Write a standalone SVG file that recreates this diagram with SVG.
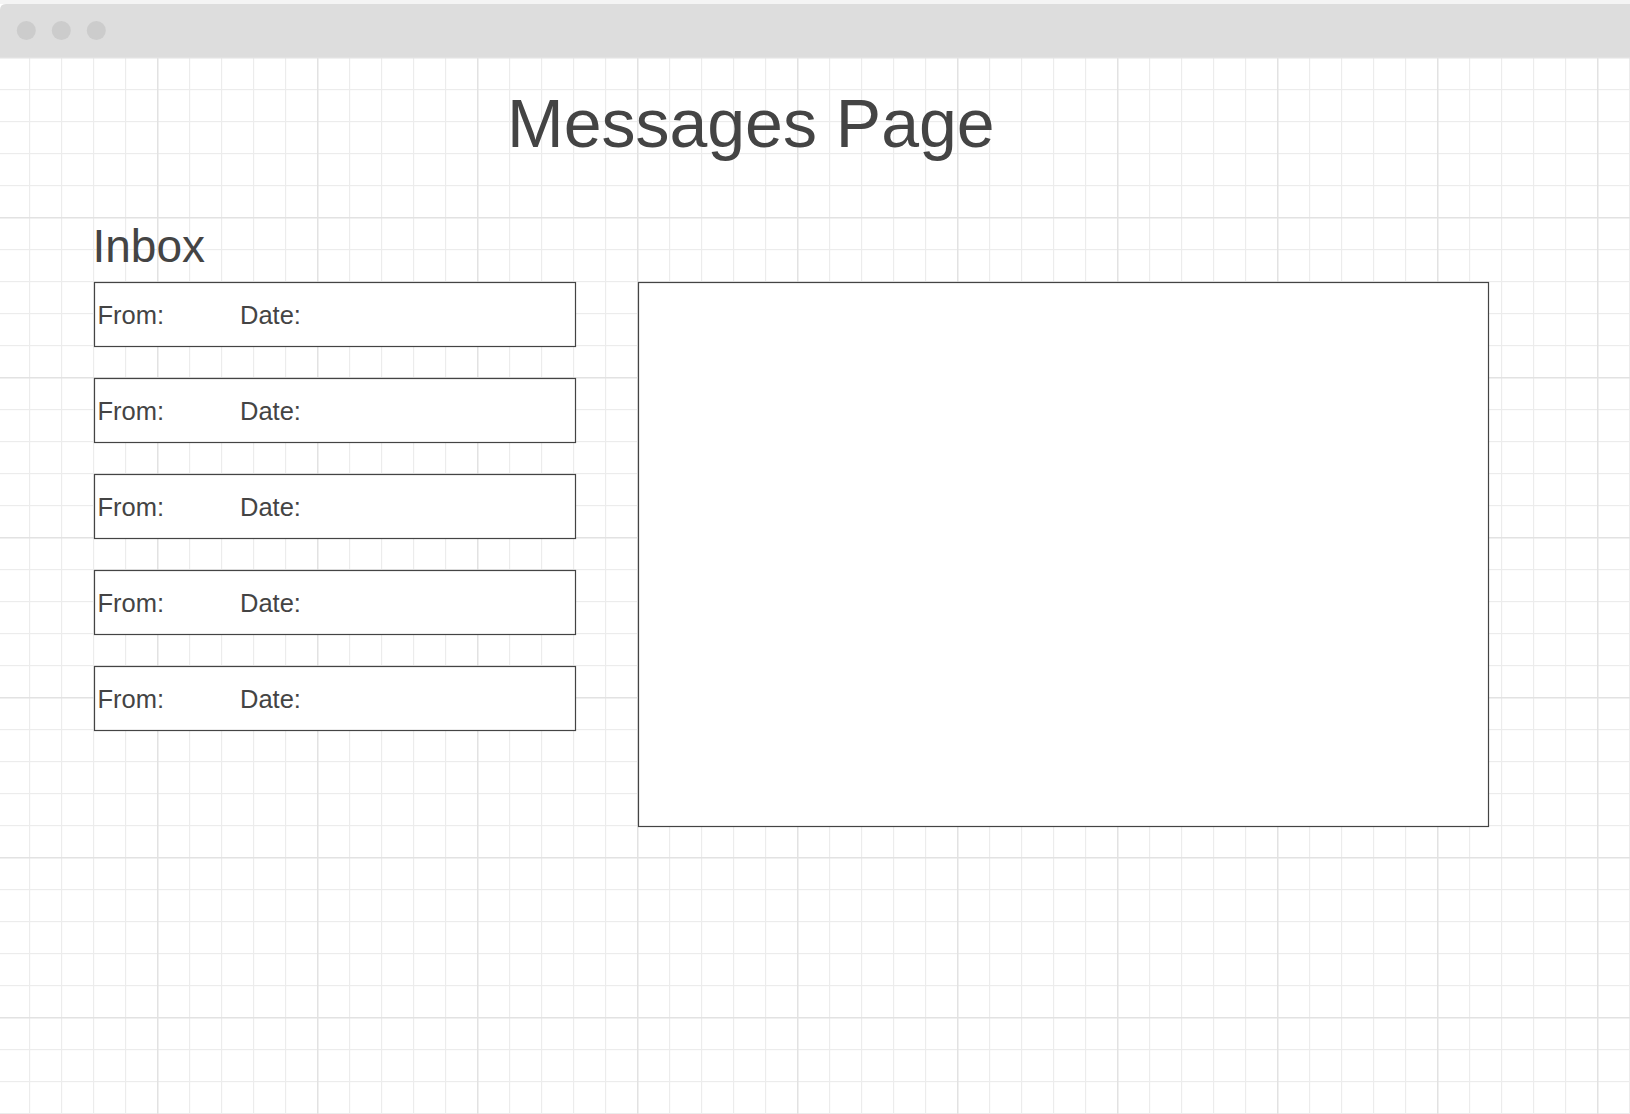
<svg xmlns="http://www.w3.org/2000/svg" width="1630" height="1114" viewBox="0 0 1630 1114">
<defs>
<pattern id="grid" patternUnits="userSpaceOnUse" x="-3" y="57" width="160" height="160">
<rect x="32" y="0" width="1.2" height="160" fill="#ececec"/>
<rect x="64" y="0" width="1.2" height="160" fill="#ececec"/>
<rect x="96" y="0" width="1.2" height="160" fill="#ececec"/>
<rect x="128" y="0" width="1.2" height="160" fill="#ececec"/>
<rect x="0" y="32" width="160" height="1.2" fill="#ececec"/>
<rect x="0" y="64" width="160" height="1.2" fill="#ececec"/>
<rect x="0" y="96" width="160" height="1.2" fill="#ececec"/>
<rect x="0" y="128" width="160" height="1.2" fill="#ececec"/>
<rect x="0" y="0" width="1.5" height="160" fill="#e2e2e2"/>
<rect x="0" y="0" width="160" height="1.5" fill="#e2e2e2"/>
</pattern>
</defs>
<style>
.box{fill:#ffffff;stroke:#444444;stroke-width:1.2}
.lbl{font-family:"Liberation Sans",Arial,sans-serif;font-size:25.5px;fill:#444444}
.ttl{font-family:"Liberation Sans",Arial,sans-serif;fill:#444444}
</style>
<rect x="0" y="0" width="1630" height="1114" fill="#ffffff"/>
<rect x="0" y="0" width="1630" height="4" fill="#f4f4f4"/>
<rect x="0" y="57" width="1630" height="1057" fill="url(#grid)"/>
<g id="browser-bar">
<path d="M0,57 V10 Q0,4 6,4 H1630 V57 Z" fill="#dddddd"/>
<circle cx="26.3" cy="30.5" r="9.5" fill="#cccccc"/>
<circle cx="61.3" cy="30.5" r="9.5" fill="#cccccc"/>
<circle cx="96.3" cy="30.5" r="9.5" fill="#cccccc"/>
</g>
<g id="title">
<text class="ttl" x="507" y="147" font-size="68">Messages Page</text>
</g>
<g id="inbox-label">
<text class="ttl" x="92.5" y="261.7" font-size="46">Inbox</text>
</g>
<g id="msg1">
<rect class="box" x="94.5" y="282.5" width="481" height="64"/>
<text class="lbl" x="97.5" y="324.3">From:</text>
<text class="lbl" x="240" y="324.3">Date:</text>
</g>
<g id="msg2">
<rect class="box" x="94.5" y="378.5" width="481" height="64"/>
<text class="lbl" x="97.5" y="420.3">From:</text>
<text class="lbl" x="240" y="420.3">Date:</text>
</g>
<g id="msg3">
<rect class="box" x="94.5" y="474.5" width="481" height="64"/>
<text class="lbl" x="97.5" y="516.3">From:</text>
<text class="lbl" x="240" y="516.3">Date:</text>
</g>
<g id="msg4">
<rect class="box" x="94.5" y="570.5" width="481" height="64"/>
<text class="lbl" x="97.5" y="612.3">From:</text>
<text class="lbl" x="240" y="612.3">Date:</text>
</g>
<g id="msg5">
<rect class="box" x="94.5" y="666.5" width="481" height="64"/>
<text class="lbl" x="97.5" y="708.3">From:</text>
<text class="lbl" x="240" y="708.3">Date:</text>
</g>
<g id="message-view">
<rect class="box" x="638.5" y="282.5" width="850" height="544"/>
</g>
<g id="connectors"></g>
</svg>
